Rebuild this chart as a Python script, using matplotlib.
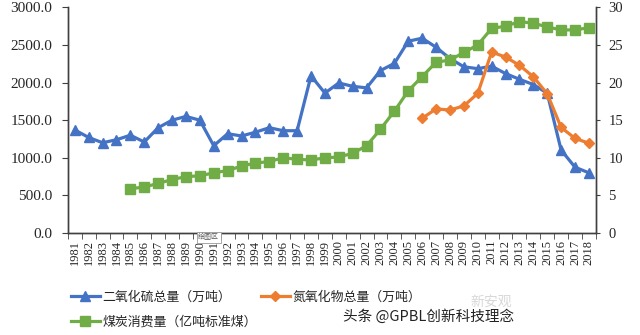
import matplotlib
matplotlib.use("Agg")
import matplotlib.pyplot as plt
from matplotlib.lines import Line2D

years = list(range(1981, 2019))
so2 = [1370, 1270, 1200, 1240, 1300, 1210, 1400, 1500, 1550, 1500,
       1160, 1320, 1290, 1340, 1400, 1360, 1360, 2090, 1860, 1995,
       1950, 1930, 2160, 2255, 2550, 2590, 2470, 2320, 2210, 2185,
       2218, 2120, 2044, 1974, 1859, 1103, 875, 800]
nox_years = list(range(2006, 2019))
nox = [1525, 1650, 1635, 1690, 1855, 2405, 2340, 2230, 2078, 1851, 1404, 1258, 1194]
coal_years = list(range(1985, 2019))
coal = [5.9, 6.1, 6.6, 7.1, 7.5, 7.6, 8.0, 8.3, 8.9, 9.3,
        9.5, 10.0, 9.8, 9.7, 10.0, 10.1, 10.6, 11.6, 13.8, 16.2,
        18.9, 20.8, 22.7, 23.0, 24.0, 25.0, 27.2, 27.5, 28.1, 27.9,
        27.4, 27.0, 27.0, 27.3]
left_ticks = [0, 500, 1000, 1500, 2000, 2500, 3000]
right_ticks = [0, 5, 10, 15, 20, 25, 30]
labels = ["二氧化硫总量（万吨）", "氮氧化物总量（万吨）", "煤炭消费量（亿吨标准煤）"]

BLUE = "#4472C4"
ORANGE = "#ED7D31"
GREEN = "#70AD47"
SPINE = "#404040"
TXT = "#262626"

plt.rcParams['font.family'] = ['Liberation Serif', 'Noto Sans CJK SC', 'DejaVu Sans']

fig = plt.figure(figsize=(6.4, 3.35), dpi=100)
ax = fig.add_axes([0.106, 0.3045, 0.825, 0.6735])
ax2 = ax.twinx()

idx = {y: i for i, y in enumerate(years)}
x_so2 = [idx[y] for y in years]
x_nox = [idx[y] for y in nox_years]
x_coal = [idx[y] for y in coal_years]

ax.plot(x_so2, so2, color=BLUE, lw=2.3, marker='^', ms=7.5, zorder=3)
ax.plot(x_nox, nox, color=ORANGE, lw=2.3, marker='D', ms=5.5, zorder=3)
ax2.plot(x_coal, coal, color=GREEN, lw=2.3, marker='s', ms=6.5, zorder=3)

ax.set_xlim(-0.5, len(years) - 0.5)
ax.set_ylim(0, 3000)
ax2.set_ylim(0, 30)

ax.set_yticks(left_ticks)
ax.set_yticklabels([f"{v:.1f}" for v in left_ticks], fontsize=11, color=TXT)
ax2.set_yticks(right_ticks)
ax2.set_yticklabels([str(v) for v in right_ticks], fontsize=10.5, color=TXT)

ax.set_xticks(range(len(years)))
ax.set_xticklabels([str(y) for y in years], rotation=90, fontsize=9, color=TXT)
ax.set_xticks([i - 0.5 for i in range(len(years) + 1)], minor=True)
ax.tick_params(axis='x', which='major', length=0, pad=5)
ax.tick_params(axis='x', which='minor', length=4, direction='out', color=SPINE)
ax.tick_params(axis='y', length=4, direction='out', color=SPINE, pad=7)
ax2.tick_params(axis='y', length=3, direction='out', color=SPINE, pad=6)

for a in (ax, ax2):
    a.spines['top'].set_visible(False)
    for s in ('left', 'right', 'bottom'):
        a.spines[s].set_color(SPINE)
        a.spines[s].set_linewidth(1.0)

h_so2 = Line2D([], [], color=BLUE, lw=2.3, marker='^', ms=7)
h_nox = Line2D([], [], color=ORANGE, lw=2.3, marker='D', ms=5.5)
h_coal = Line2D([], [], color=GREEN, lw=2.3, marker='s', ms=6.5)
leg = fig.legend([h_so2, h_coal, h_nox], [labels[0], labels[2], labels[1]],
                 loc='upper left', bbox_to_anchor=(0.092, 0.168),
                 ncol=2, frameon=False, handlelength=2.3,
                 columnspacing=0.3, handletextpad=0.15, labelspacing=0.95,
                 prop={'family': ['Noto Sans CJK SC'], 'size': 9.3})
for t in leg.get_texts():
    t.set_color(TXT)

fig.text(0.326, 0.292, "绘图区", fontsize=5, color="#555555",
         family=['Noto Sans CJK SC'], ha='center', va='center',
         bbox=dict(boxstyle='square,pad=0.2', fc='white', ec='#999999', lw=0.6))
fig.text(0.768, 0.100, "新安观", fontsize=10, color="#d8d8d8",
         family=['Noto Sans CJK SC'], ha='center', va='center')
fig.text(0.67, 0.054, "头条 @GPBL创新科技理念", fontsize=10.5, color="#222222",
         family=['Noto Sans CJK SC'], ha='center', va='center')

fig.savefig("out.png", dpi=100)
